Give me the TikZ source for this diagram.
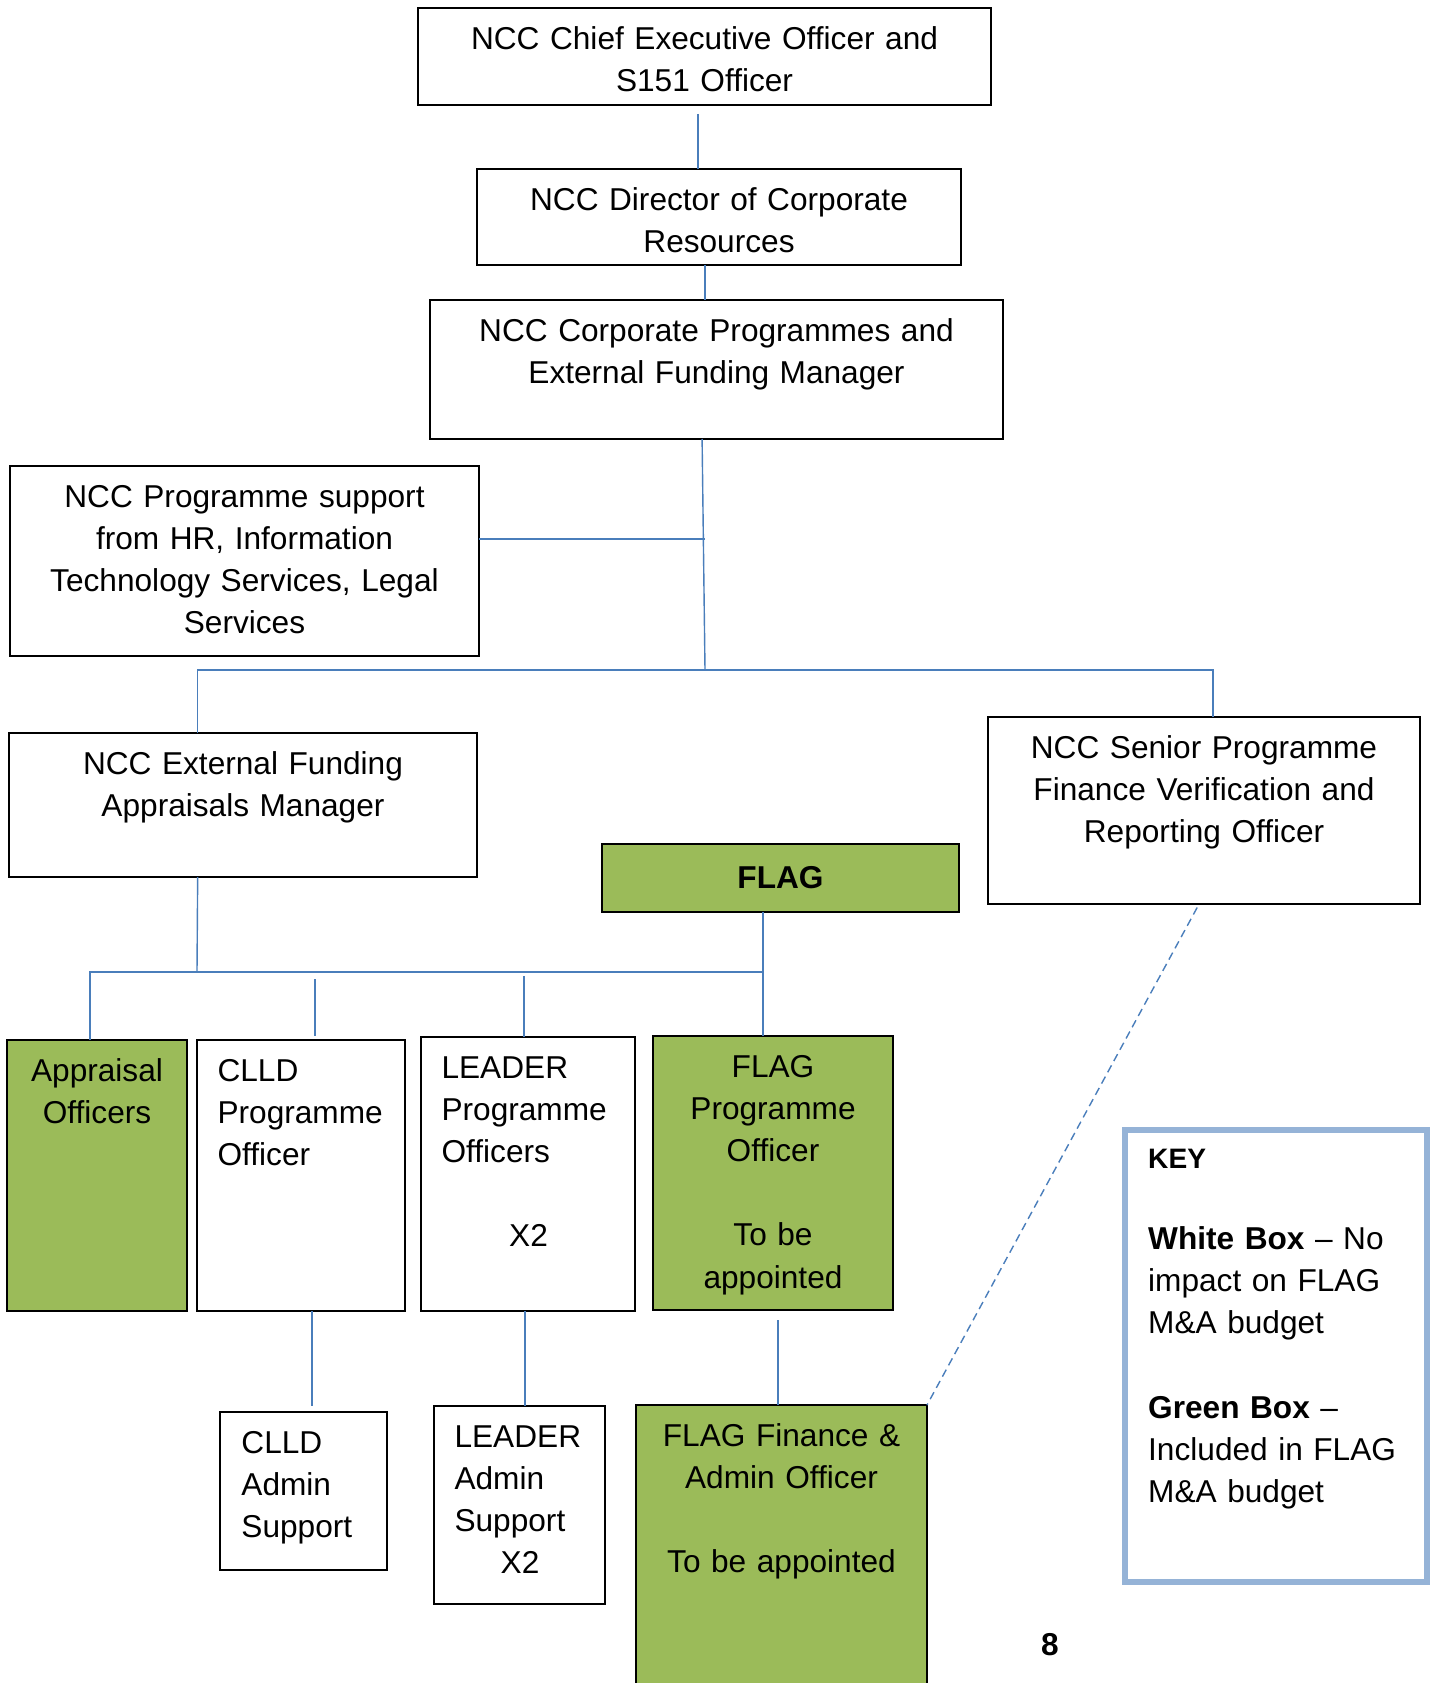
\documentclass[tikz,border=0pt]{standalone}
\usepackage{fontspec}
\setmainfont{Liberation Sans}
\usetikzlibrary{fit,calc}
\definecolor{flaggreen}{HTML}{9BBB59}
\definecolor{linkblue}{HTML}{4A7EBB}
\definecolor{keyblue}{HTML}{95B3D7}

\begin{document}
\begin{tikzpicture}[x=0.02cm,y=-0.02cm,
		orgbox/.style={draw,line width=1.1pt,inner sep=0pt,outer sep=0pt},
		greenbox/.style={orgbox,fill=flaggreen},
		keybox/.style={draw=keyblue,line width=3.1pt,inner sep=0pt,outer sep=0pt},
		boxtext/.style={anchor=base,yshift=-23.5pt,inner sep=0pt,text width=11cm,align=center,font=\fontsize{18}{24}\selectfont},
		lefttext/.style={boxtext,anchor=base west,align=left,xshift=11.5pt},
		link/.style={linkblue,line width=0.8pt}]
	\useasboundingbox (0,0) rectangle (1432,1683);

	% Boxes
	\node[orgbox,fit={(418,8) (991,105)}] (ceo) {};
	\node[orgbox,fit={(477,169) (961,265)}] (director) {};
	\node[orgbox,fit={(430,300) (1003,439)}] (corpmgr) {};
	\node[orgbox,fit={(10,466) (479,656)}] (support) {};
	\node[orgbox,fit={(9,733) (477,877)}] (extmgr) {};
	\node[orgbox,fit={(988,717) (1420,904)}] (seniorfin) {};
	\node[greenbox,fit={(602,844) (959,912)}] (flag) {};
	\node[greenbox,fit={(7,1040) (187,1311)}] (appraisal) {};
	\node[orgbox,fit={(197,1040) (405,1311)}] (clldpo) {};
	\node[orgbox,fit={(421,1037) (635,1311)}] (leaderpo) {};
	\node[greenbox,fit={(653,1036) (893,1310)}] (flagpo) {};
	\node[orgbox,fit={(220,1412) (387,1570)}] (clldadmin) {};
	\node[orgbox,fit={(434,1406) (605,1604)}] (leaderadmin) {};
	\node[greenbox,fit={(636,1405) (927,1700)}] (flagfin) {};
	\node[keybox,fit={(1125,1130) (1427,1582)}] (key) {};

	% Texts
	\node[boxtext] (ceo-t) at (ceo.north) {NCC Chief Executive Officer and\\S151 Officer};
	\node[boxtext] (director-t) at (director.north) {NCC Director of Corporate\\Resources};
	\node[boxtext] (corpmgr-t) at (corpmgr.north) {NCC Corporate Programmes and\\External Funding Manager};
	\node[boxtext] (support-t) at (support.north) {NCC Programme support\\from HR, Information\\Technology Services, Legal\\Services};
	\node[boxtext] (extmgr-t) at (extmgr.north) {NCC External Funding\\Appraisals Manager};
	\node[boxtext] (seniorfin-t) at (seniorfin.north) {NCC Senior Programme\\Finance Verification and\\Reporting Officer};
	\node[inner sep=0pt,font=\fontsize{18}{24}\selectfont\bfseries] (flag-t) at (flag.center) {FLAG};
	\node[boxtext] (appraisal-t) at (appraisal.north) {Appraisal\\Officers};
	\node[lefttext,text width=4cm] (clldpo-t) at (clldpo.north west) {CLLD\\Programme\\Officer};
	\node[lefttext,text width=3.48cm] (leaderpo-t) at (leaderpo.north west) {LEADER\\Programme\\Officers\\[24pt]\makebox[\hsize]{X2}};
	\node[boxtext] (flagpo-t) at (flagpo.north) {FLAG\\Programme\\Officer\\[24pt]To be\\appointed};
	\node[lefttext,text width=3cm,xshift=0.5pt] (clldadmin-t) at (clldadmin.north west) {CLLD\\Admin\\Support};
	\node[lefttext,text width=2.62cm] (leaderadmin-t) at (leaderadmin.north west) {LEADER\\Admin\\Support\\\makebox[\hsize]{X2}};
	\node[boxtext] (flagfin-t) at (flagfin.north) {FLAG Finance \&\\Admin Officer\\[24pt]To be appointed};
	\node[lefttext,text width=5cm,xshift=1.5pt,yshift=1.4pt] (key-t) at (key.north west) {{\fontsize{16}{24}\selectfont\bfseries KEY}\\[22pt]
		\textbf{White Box} -- No\\impact on FLAG\\M\&A budget\\[24pt]
		\textbf{Green Box} --\\Included in FLAG\\M\&A budget};
	\node[inner sep=0pt,font=\fontsize{18}{24}\selectfont\bfseries] (pagenum) at (1050,1645) {8};

	% Connectors
	\coordinate (hub) at (705,670);
	\coordinate (sub-hub) at (197,972);
	\coordinate (flag-tee) at (763,972);
	\draw[link,shorten <=5pt] ([xshift=-3.7pt]ceo.south) -- ([xshift=-3.7pt]ceo.south |- director.north);
	\draw[link] ([xshift=-7.9pt]director.south) -- ([xshift=-7.9pt]director.south |- corpmgr.north);
	\draw[link] ([xshift=-8.2pt]corpmgr.south) -- (hub);
	\draw[link] ([yshift=12.5pt]support.east) -- ([yshift=12.5pt]support.east -| hub);
	\draw[link] ([xshift=-25.8pt]extmgr.north) |- (hub) -| ([xshift=5.1pt]seniorfin.north);
	\draw[link] ([xshift=-25.8pt]extmgr.south) -- (sub-hub);
	\draw[link] ([xshift=-4pt]appraisal.north) |- (flag-tee);
	\draw[link] (flag.south -| flag-tee) -- (flagpo.north -| flag-tee);
	\draw[link,shorten <=4pt,shorten >=2.3pt] ([xshift=7.9pt]clldpo.north |- flag-tee) -- ([xshift=7.9pt]clldpo.north);
	\draw[link,shorten <=2.3pt] ([xshift=-2.3pt]leaderpo.north |- flag-tee) -- ([xshift=-2.3pt]leaderpo.north);
	\draw[link,shorten >=3.4pt] ([xshift=6.2pt]clldpo.south) -- ([xshift=6.2pt]clldpo.south |- clldadmin.north);
	\draw[link] ([xshift=-1.7pt]leaderpo.south) -- ([xshift=-1.7pt]leaderpo.south |- leaderadmin.north);
	\draw[link,shorten <=5.7pt] ([xshift=2.8pt]flagpo.south) -- ([xshift=2.8pt]flagpo.south |- flagfin.north);
	\draw[link,dash pattern=on 4.5pt off 2.8pt,shorten <=2.3pt] ([xshift=-2.8pt]seniorfin.south) -- (flagfin.north east);
\end{tikzpicture}
\end{document}
